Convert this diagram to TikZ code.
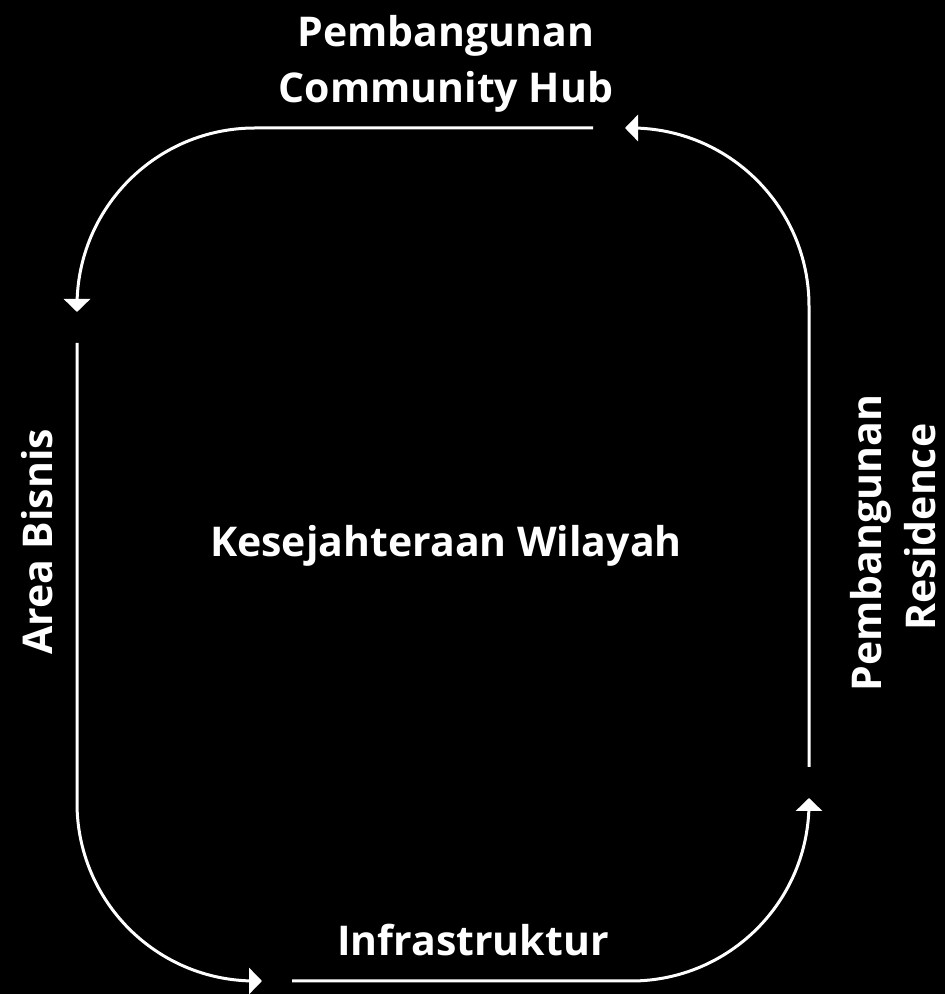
\documentclass[tikz,border=0pt]{standalone}
\usepackage{fontspec}
\setmainfont{Open Sans}
\usetikzlibrary{arrows.meta}
\begin{document}
\begin{tikzpicture}[x=1pt,y=1pt,
  lbl/.style={text=white,font=\bfseries\fontsize{41}{56}\selectfont,inner sep=0pt,anchor=base},
  flow/.style={draw=white,line width=3pt,-{Triangle[width=26pt,length=13pt]}}]
\fill[black] (0,0) rectangle (945,994);
\useasboundingbox (0,0) rectangle (945,994);
% labels
\node[lbl] (hub1) at (446,947) {Pembangunan};
\node[lbl] (hub2) at (446,891) {Community Hub};
\node[lbl] (center) at (446,437) {Kesejahteraan Wilayah};
\node[lbl] (infra) at (473,38) {Infrastruktur};
\node[lbl,rotate=90] (res1) at (881,451) {Pembangunan};
\node[lbl,rotate=90] (res2) at (935,467) {Residence};
\node[lbl,rotate=90] (bis) at (52,452) {Area Bisnis};
% connector end points
\coordinate (s1) at (593,866);
\coordinate (e1) at (77,682);
\coordinate (s2) at (77,651);
\coordinate (e2) at (262,13);
\coordinate (s3) at (292,13);
\coordinate (e3) at (809,196);
\coordinate (s4) at (809,227);
\coordinate (e4) at (625,866);
% connectors
\draw[flow] (s1) -- (255,866) arc[start angle=90,end angle=180,radius=178] -- (e1);
\draw[flow] (s2) -- (77,191) arc[start angle=180,end angle=270,radius=178] -- (e2);
\draw[flow] (s3) -- (631,13) arc[start angle=270,end angle=360,radius=178] -- (e3);
\draw[flow] (s4) -- (809,688) arc[start angle=0,end angle=90,radius=178] -- (e4);
\end{tikzpicture}
\end{document}
